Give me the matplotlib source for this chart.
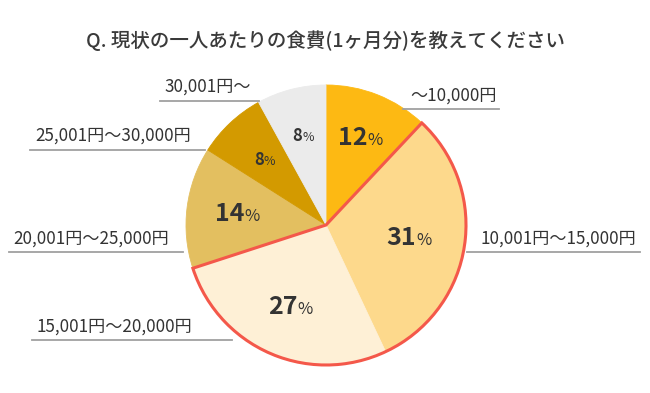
import numpy as np
import matplotlib.pyplot as plt
from matplotlib.patches import Wedge
from matplotlib.offsetbox import TextArea, HPacker, AnnotationBbox

plt.rcParams['font.family'] = ['Noto Sans CJK JP', 'DejaVu Sans']

title = "Q. 現状の一人あたりの食費(1ヶ月分)を教えてください"
categories = ["〜10,000円", "10,001円〜15,000円", "15,001円〜20,000円",
              "20,001円〜25,000円", "25,001円〜30,000円", "30,001円〜"]
shares = [12, 31, 27, 14, 8, 8]
colors = ["#FDB913", "#FDD98C", "#FEF0D6", "#E3BF60", "#D39A00", "#EBEBEB"]

# figure in pixel coordinates (y up)
W, H = 650, 393
fig = plt.figure(figsize=(6.5, 3.93), dpi=100)
ax = fig.add_axes([0, 0, 1, 1])

cx, cy, R = 326, H - 225, 140
wedges, _ = ax.pie(shares, colors=colors, startangle=90, counterclock=False,
                   center=(cx, cy), radius=R,
                   wedgeprops=dict(linewidth=0.6, edgecolor=None))
for w, c in zip(wedges, colors):
    w.set_edgecolor(c)
ax.set_xlim(0, W)
ax.set_ylim(0, H)
ax.set_aspect("equal")
ax.axis("off")

# angles of slice boundaries (degrees, clockwise from top)
bounds = 90 - 3.6 * np.concatenate([[0], np.cumsum(shares)])
mids = (bounds[:-1] + bounds[1:]) / 2

# red outline around the 10,001-20,000 slices
ax.add_patch(Wedge((cx, cy), R, bounds[3], bounds[1], fill=False,
                   edgecolor="#F4584A", linewidth=2.2, zorder=3))

# percentage labels
num_size = [18, 18, 18, 18, 12, 12]
pct_size = [12, 12, 12, 12, 9, 9]
rfrac = [0.67, 0.6, 0.64, 0.64, 0.64, 0.66]
for v, m, ns, ps, rf in zip(shares, mids, num_size, pct_size, rfrac):
    x = cx + rf * R * np.cos(np.radians(m))
    y = cy + rf * R * np.sin(np.radians(m))
    t1 = TextArea(str(v), textprops=dict(fontsize=ns, fontweight="bold", color="#333333"))
    t2 = TextArea("%", textprops=dict(fontsize=ps, color="#333333"))
    box = HPacker(children=[t1, t2], align="baseline", pad=0, sep=0)
    ax.add_artist(AnnotationBbox(box, (x, y), frameon=False, box_alignment=(0.5, 0.5), zorder=4))

# category labels with underlines: (text x, text y, line x0, line x1, line y)
label_pos = [
    (410, 96, 403, 499, 109),
    (480, 239, 467, 640, 252),
    (36, 327, 32, 232, 340),
    (13, 239, 9, 183, 252),
    (35, 136, 30, 205, 150),
    (164, 87, 160, 259, 101),
]
for lab, (tx, ty, x0, x1, ly) in zip(categories, label_pos):
    ax.text(tx, H - ty, lab, fontsize=12.3, color="#333333", ha="left", va="center")
    ax.plot([x0, x1], [H - ly, H - ly], color="#A0A0A0", lw=1.3, zorder=1)

ax.text(325, H - 41, title, fontsize=14, fontweight="medium", color="#3a3a3a",
        ha="center", va="center")

fig.savefig("out.png", dpi=100)
